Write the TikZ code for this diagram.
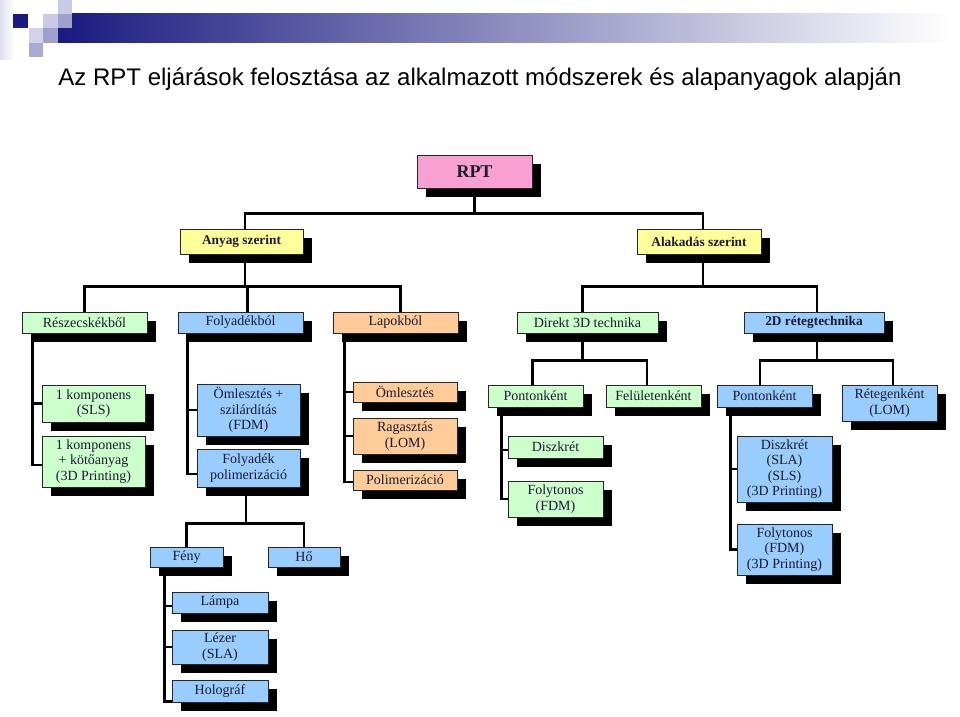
\documentclass[tikz,border=0pt]{standalone}
\usepackage{fontspec}
\setmainfont{Liberation Serif}
\newfontfamily\titlefont{Liberation Sans}
\usetikzlibrary{shadows,calc}
\pgfdeclarelayer{bg}
\pgfsetlayers{bg,main}
\definecolor{pinkc}{HTML}{F8A0D2}
\definecolor{yelc}{HTML}{FFFF99}
\definecolor{grnc}{HTML}{CCFFCC}
\definecolor{bluc}{HTML}{99CCFF}
\definecolor{orgc}{HTML}{FFCC99}
\definecolor{navyc}{HTML}{1A1A80}
\definecolor{txtc}{HTML}{1A1A30}
\definecolor{midbar}{HTML}{A2A2BA}
\definecolor{sqlight}{HTML}{CACAE6}
\definecolor{sqmed}{HTML}{A0A0CE}
\newcommand\mybox[7]{\node[#1, minimum width={(#5-#3)*0.75pt}, minimum height={(#6-#4)*0.75pt}]
  (#2) at ({(#3+#5)/2},{(#4+#6)/2}) {#7};}
\begin{document}
\begin{tikzpicture}[x=0.75pt,y=-0.75pt,
  bx/.style={draw=black!85, line width=0.7pt, inner sep=0pt, align=center, text=txtc,
    font=\fontsize{10.5}{11.5}\selectfont,
    drop shadow={shadow xshift=6.75pt, shadow yshift=-6.75pt, opacity=1, fill=black}},
  bxb/.style={bx, font=\fontsize{10}{11.5}\selectfont\bfseries},
  ln/.style={line width=2.2pt, draw=black},
  pink/.style={fill=pinkc}, yel/.style={fill=yelc}, grn/.style={fill=grnc},
  blu/.style={fill=bluc}, org/.style={fill=orgc}]
\useasboundingbox (0,0) rectangle (960,717);
\begin{pgfonlayer}{bg}
\fill[white] (0,0) rectangle (960,717);
\end{pgfonlayer}
% header decoration
\shade[left color=sqlight!60, right color=white] (0,0) rectangle (14,60);
\shade[left color=navyc, middle color=midbar, right color=white] (58,14) rectangle (950,43);
\fill[navyc] (13,14) rectangle (28,28);
\fill[sqlight] (58,0) rectangle (72,14);
\fill[sqlight] (43,14) rectangle (58,28);
\fill[sqmed] (58,14) rectangle (72,28);
\fill[sqlight!85] (29,28) rectangle (43,43);
\fill[sqmed] (43,28) rectangle (58,43);
\fill[sqmed!90] (29,43) rectangle (43,57);
% title
\node[font=\titlefont\fontsize{18}{20}\selectfont, anchor=base, inner sep=0pt] (title) at (480,86)
  {Az RPT eljárások felosztása az alkalmazott módszerek és alapanyagok alapján};
% boxes
\mybox{bxb, pink, font=\fontsize{13.5}{15}\selectfont\bfseries}{rpt}{417}{155}{532}{188}{RPT}
\mybox{bxb, yel}{anyag}{180}{229}{303}{254}{Anyag szerint}
\mybox{bxb, yel}{alak}{637}{229}{761}{254}{Alakadás szerint}
\mybox{bx, grn}{res}{22}{312}{147}{333}{Részecskékből}
\mybox{bx, blu}{foly}{178}{312}{303}{333}{Folyadékból}
\mybox{bx, org}{lap}{333}{312}{458}{333}{Lapokból}
\mybox{bx, grn}{dir}{517}{312}{658}{333}{Direkt 3D technika}
\mybox{bxb, blu}{twod}{744}{312}{884}{333}{2D rétegtechnika}
\mybox{bx, grn}{sls}{42}{385}{145}{422}{1 komponens\\(SLS)}
\mybox{bx, grn}{kot}{42}{436}{145}{487}{1 komponens\\+ kötőanyag\\(3D Printing)}
\mybox{bx, blu}{oml}{197}{384}{300}{436}{Ömlesztés +\\szilárdítás\\(FDM)}
\mybox{bx, blu}{fpol}{197}{449}{300}{487}{Folyadék\\polimerizáció}
\mybox{bx, org}{loml}{353}{382}{457}{402}{Ömlesztés}
\mybox{bx, org}{rag}{353}{418}{457}{454}{Ragasztás\\(LOM)}
\mybox{bx, org}{pol}{353}{470}{457}{490}{Polimerizáció}
\mybox{bx, grn}{pont1}{488}{385}{583}{407}{Pontonként}
\mybox{bx, grn}{fel}{606}{385}{701}{407}{Felületenként}
\mybox{bx, grn}{disz1}{508}{436}{603}{458}{Diszkrét}
\mybox{bx, grn}{folyt1}{508}{481}{603}{517}{Folytonos\\(FDM)}
\mybox{bx, blu}{pont2}{717}{385}{812}{407}{Pontonként}
\mybox{bx, blu}{reteg}{842}{385}{937}{421}{Rétegenként\\(LOM)}
\mybox{bx, blu}{disz2}{737}{436}{832}{502}{Diszkrét\\(SLA)\\(SLS)\\(3D Printing)}
\mybox{bx, blu}{folyt2}{737}{524}{832}{575}{Folytonos\\(FDM)\\(3D Printing)}
\mybox{bx, blu}{feny}{150}{547}{223}{567}{Fény}
\mybox{bx, blu}{ho}{268}{547}{340}{567}{Hő}
\mybox{bx, blu}{lampa}{172}{592}{268}{613}{Lámpa}
\mybox{bx, blu}{lezer}{172}{630}{268}{664}{Lézer\\(SLA)}
\mybox{bx, blu}{holo}{172}{680}{268}{702}{Holográf}
% connectors
\begin{pgfonlayer}{bg}
% level 1
\draw[ln] (rpt.south) -- ++(0,25) coordinate (b1);
\coordinate (anyt) at ([xshift=2.6pt]anyag.north);
\coordinate (alat) at ([xshift=3pt]alak.north);
\draw[ln] (anyt) |- (alat |- b1) -- (alat);
% level 2 left
\coordinate (anyb) at ([xshift=2.6pt]anyag.south);
\draw[ln] (anyb) -- ++(0,32) coordinate (b2);
\coordinate (folt) at ([xshift=4.9pt]foly.north);
\coordinate (lapt) at ([xshift=3.4pt]lap.north);
\draw[ln] (res.north) |- (lapt |- b2) -- (lapt);
\draw[ln] (folt) -- (folt |- b2);
% level 2 right
\coordinate (alab) at ([xshift=3pt]alak.south);
\draw[ln] (alab) -- ++(0,32) coordinate (b3);
\coordinate (dirt) at ([xshift=-4.1pt]dir.north);
\coordinate (twot) at ([xshift=2.25pt]twod.north);
\draw[ln] (dirt) |- (twot |- b3) -- (twot);
% direkt 3D
\coordinate (dirb) at ([xshift=-4.1pt]dir.south);
\draw[ln] (dirb) -- ++(0,27) coordinate (b4);
\coordinate (p1t) at ([xshift=-2.6pt]pont1.north);
\coordinate (felt) at ([xshift=-4.9pt]fel.north);
\draw[ln] (p1t) |- (felt |- b4) -- (felt);
% 2D
\coordinate (twob) at ([xshift=2.25pt]twod.south);
\draw[ln] (twob) -- ++(0,27) coordinate (b5);
\coordinate (p2t) at ([xshift=-3.4pt]pont2.north);
\coordinate (rett) at ([xshift=2.6pt]reteg.north);
\draw[ln] (p2t) |- (rett |- b5) -- (rett);
% folyadek polimerizacio
\coordinate (fpb) at ([xshift=-1.9pt]fpol.south);
\draw[ln] (fpb) -- ++(0,36) coordinate (b6);
\draw[ln] (feny.north) |- (ho.north |- b6) -- (ho.north);
% spines
\coordinate (rs) at ([xshift=8.25pt]res.south west);
\draw[ln] (rs) |- ([yshift=-2.6pt]kot.west);
\draw[ln] (sls.west) -- (sls.west -| rs);
\coordinate (fs) at ([xshift=7.5pt]foly.south west);
\draw[ln] (fs) |- ([yshift=-4.5pt]fpol.west);
\draw[ln] (oml.west) -- (oml.west -| fs);
\coordinate (ls) at ([xshift=9pt]lap.south west);
\draw[ln] (ls) |- ([yshift=-1.5pt]pol.west);
\draw[ln] (loml.west) -- (loml.west -| ls);
\draw[ln] (rag.west) -- (rag.west -| ls);
\coordinate (p1s) at ([xshift=10.5pt]pont1.south west);
\draw[ln] (p1s) |- (folyt1.west);
\draw[ln] ([yshift=-2.25pt]disz1.west) -- ([yshift=-2.25pt]disz1.west -| p1s);
\coordinate (p2s) at ([xshift=10.5pt]pont2.south west);
\draw[ln] (p2s) |- (folyt2.west);
\draw[ln] (disz2.west) -- (disz2.west -| p2s);
\coordinate (fys) at ([xshift=11.25pt]feny.south west);
\draw[ln] (fys) |- ([yshift=-8pt]holo.west);
\draw[ln] ([yshift=-2.6pt]lampa.west) -- ([yshift=-2.6pt]lampa.west -| fys);
\draw[ln] (lezer.west) -- (lezer.west -| fys);
\end{pgfonlayer}
\end{tikzpicture}
\end{document}
